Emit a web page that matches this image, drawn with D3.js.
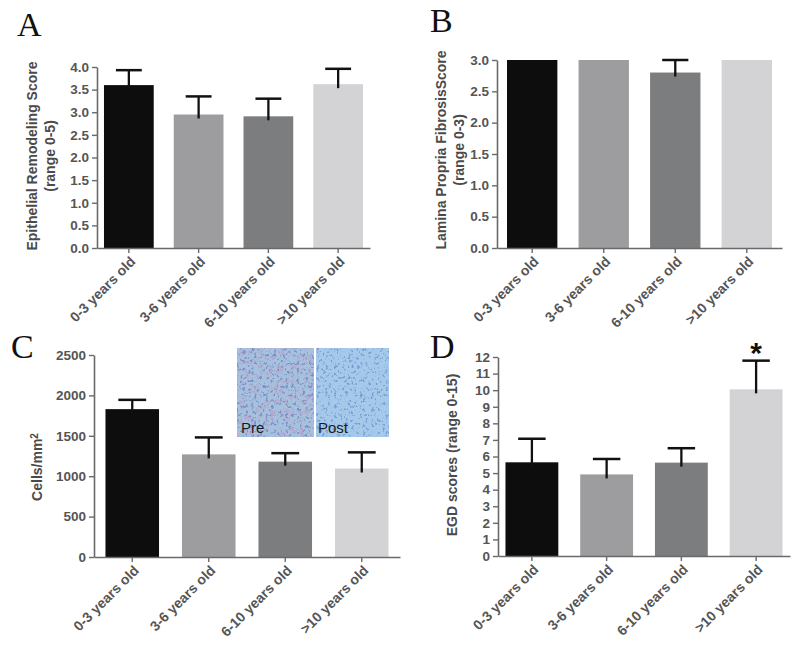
<!DOCTYPE html>
<html>
<head>
<meta charset="utf-8">
<script src="https://cdn.jsdelivr.net/npm/d3@7"></script>
<style>
  html, body { margin: 0; padding: 0; background: #ffffff; }
  svg { display: block; }
  text { font-family: "Liberation Sans", Arial, sans-serif; }
</style>
</head>
<body>
<svg id="chart" width="800" height="668"></svg>
<script>
// ---------- DATA ----------
const categories = ["0-3 years old", "3-6 years old", "6-10 years old", ">10 years old"];
const barColors = ["#0d0d0d", "#9d9d9f", "#7c7d7f", "#d3d3d5"];

const epithelialMean = [3.60, 2.95, 2.91, 3.62];
const epithelialErr  = [0.33, 0.40, 0.39, 0.34];
const epithelialTicks = [0, 0.5, 1, 1.5, 2, 2.5, 3, 3.5, 4];

const fibrosisMean = [3.0, 3.0, 2.8, 3.0];
const fibrosisErr  = [0, 0, 0.2, 0];
const fibrosisTicks = [0, 0.5, 1, 1.5, 2, 2.5, 3];

const cellsMean = [1830, 1270, 1180, 1095];
const cellsErr  = [115, 210, 105, 200];
const cellsTicks = [0, 500, 1000, 1500, 2000, 2500];

const egdMean = [5.65, 4.92, 5.63, 10.05];
const egdErr  = [1.42, 0.93, 0.87, 1.73];
const egdTicks = [0, 1, 2, 3, 4, 5, 6, 7, 8, 9, 10, 11, 12];

// ---------- DRAW ----------
const svg = d3.select("#chart");
const defs = svg.append("defs");

function panel(cfg) {
  const g = svg.append("g");
  const x = d3.scaleBand().domain(categories)
    .range([cfg.x0, cfg.x1]).paddingInner(cfg.pi).paddingOuter(cfg.po);
  const y = d3.scaleLinear().domain([0, cfg.max]).range([cfg.y0, cfg.y1]);

  // bars
  g.selectAll("rect.bar").data(cfg.mean).join("rect")
    .attr("class", "bar")
    .attr("x", (d, i) => x(categories[i]))
    .attr("width", x.bandwidth())
    .attr("y", d => y(d))
    .attr("height", d => y(0) - y(d))
    .attr("fill", (d, i) => barColors[i]);

  // error bars (upper only)
  const capW = x.bandwidth() * 0.52;
  cfg.mean.forEach((m, i) => {
    const e = cfg.err[i];
    if (!e) return;
    const cx = x(categories[i]) + x.bandwidth() / 2;
    g.append("line").attr("x1", cx).attr("x2", cx)
      .attr("y1", y(m) + 4).attr("y2", y(m + e))
      .attr("stroke", "#111").attr("stroke-width", 2.3);
    g.append("line").attr("x1", cx - capW / 2).attr("x2", cx + capW / 2)
      .attr("y1", y(m + e)).attr("y2", y(m + e))
      .attr("stroke", "#111").attr("stroke-width", 2.5);
  });

  // y axis
  const ya = g.append("g").attr("transform", `translate(${cfg.x0},0)`)
    .call(d3.axisLeft(y).tickValues(cfg.ticks).tickFormat(cfg.fmt)
      .tickSize(5).tickSizeOuter(0).tickPadding(3));
  ya.select(".domain").attr("stroke", "#6a6a6a").attr("stroke-width", 1.6);
  ya.selectAll(".tick line").attr("stroke", "#6a6a6a").attr("stroke-width", 1.4);
  ya.selectAll(".tick text").attr("fill", "#555").style("font-size", cfg.tickFs + "px")
    .style("font-weight", "bold");

  // x axis
  const xa = g.append("g").attr("transform", `translate(0,${cfg.y0})`)
    .call(d3.axisBottom(x).tickSize(5).tickSizeOuter(0));
  xa.select(".domain").attr("stroke", "#6a6a6a").attr("stroke-width", 1.6);
  xa.selectAll(".tick line").attr("stroke", "#6a6a6a").attr("stroke-width", 1.4);
  xa.selectAll(".tick text")
    .attr("x", 0).attr("y", 0).attr("dy", "0.35em")
    .attr("transform", "translate(4,11) rotate(-45)")
    .style("text-anchor", "end")
    .style("font-size", "14px").style("font-weight", "bold")
    .attr("fill", "#555");

  // y title
  const yt = g.append("text")
    .attr("transform", `translate(${cfg.titleX},${cfg.titleY}) rotate(-90)`)
    .attr("text-anchor", "middle")
    .attr("fill", "#4a4a4a")
    .style("font-size", "14px").style("font-weight", "bold");
  cfg.title(yt);

  // panel letter
  g.append("text").attr("x", cfg.letterX).attr("y", cfg.letterY)
    .text(cfg.letter)
    .style("font-family", "'Liberation Serif', 'Times New Roman', serif")
    .style("font-size", "34px").attr("fill", "#111");
  return { g, x, y };
}

const fmt1 = d3.format(".1f");
const fmt0 = d3.format("d");

panel({
  letter: "A", letterX: 17, letterY: 36,
  x0: 97, x1: 370, pi: 0.287, po: 0.10, y0: 248, y1: 67, max: 4,
  mean: epithelialMean, err: epithelialErr, ticks: epithelialTicks, fmt: fmt1, tickFs: 13.5,
  titleX: 37, titleY: 156,
  title: t => {
    t.append("tspan").attr("x", 0).attr("dy", 0).text("Epithelial Remodeling Score");
    t.append("tspan").attr("x", 0).attr("dy", "1.3em").text("(range 0-5)");
  }
});

panel({
  letter: "B", letterX: 430, letterY: 32,
  x0: 497, x1: 782, pi: 0.296, po: 0.14, y0: 248, y1: 60, max: 3,
  mean: fibrosisMean, err: fibrosisErr, ticks: fibrosisTicks, fmt: fmt1, tickFs: 13.5,
  titleX: 446, titleY: 150,
  title: t => {
    t.append("tspan").attr("x", 0).attr("dy", 0).text("Lamina Propria FibrosisScore");
    t.append("tspan").attr("x", 0).attr("dy", "1.3em").text("(range 0-3)");
  }
});

const pc = panel({
  letter: "C", letterX: 11, letterY: 358,
  x0: 94, x1: 400, pi: 0.30, po: 0.15, y0: 557, y1: 355, max: 2500,
  mean: cellsMean, err: cellsErr, ticks: cellsTicks, fmt: fmt0, tickFs: 13.5,
  titleX: 42, titleY: 467,
  title: t => {
    t.append("tspan").text("Cells/mm");
    t.append("tspan").attr("dy", "-0.45em").style("font-size", "10px").text("2");
  }
});

const pd = panel({
  letter: "D", letterX: 430, letterY: 358,
  x0: 498, x1: 790, pi: 0.293, po: 0.10, y0: 556, y1: 357, max: 12,
  mean: egdMean, err: egdErr, ticks: egdTicks, fmt: fmt0, tickFs: 13.5,
  titleX: 457, titleY: 455,
  title: t => { t.text("EGD scores (range 0-15)"); }
});

// significance asterisk over the >10 years bar in D
pd.g.append("text")
  .attr("x", pd.x(categories[3]) + pd.x.bandwidth() / 2)
  .attr("y", pd.y(egdMean[3] + egdErr[3]) + 2)
  .attr("text-anchor", "middle")
  .style("font-size", "30px").style("font-weight", "bold")
  .attr("fill", "#111").text("*");

// ---------- INSET MICROGRAPH (decorative) ----------
function noiseFilter(id, seed, freq, rgb, k, off) {
  const f = defs.append("filter").attr("id", id)
    .attr("x", 0).attr("y", 0).attr("width", "100%").attr("height", "100%");
  f.append("feTurbulence").attr("type", "fractalNoise")
    .attr("baseFrequency", freq).attr("numOctaves", 3).attr("seed", seed);
  f.append("feColorMatrix").attr("type", "matrix")
    .attr("values", `0 0 0 0 ${rgb[0]}  0 0 0 0 ${rgb[1]}  0 0 0 0 ${rgb[2]}  ${k} 0 0 0 ${off}`);
}
noiseFilter("nPurple", 9, 0.2, [0.50, 0.38, 0.60], 4, -2.0);
noiseFilter("nBlue", 4, 0.35, [0.18, 0.28, 0.58], 6, -3.3);
noiseFilter("nBlue2", 13, 0.35, [0.2, 0.32, 0.64], 6, -3.35);

const inset = svg.append("g");
const ix = 237, iy = 348, iw = 152, ih = 89, split = 78;
// Pre
inset.append("rect").attr("x", ix).attr("y", iy).attr("width", split - 1).attr("height", ih).attr("fill", "#a6c2de");
inset.append("rect").attr("x", ix).attr("y", iy).attr("width", split - 1).attr("height", ih).attr("filter", "url(#nPurple)");
inset.append("rect").attr("x", ix).attr("y", iy).attr("width", split - 1).attr("height", ih).attr("filter", "url(#nBlue)");
// Post
inset.append("rect").attr("x", ix + split + 1).attr("y", iy).attr("width", iw - split - 1).attr("height", ih).attr("fill", "#a4c9ea");
inset.append("rect").attr("x", ix + split + 1).attr("y", iy).attr("width", iw - split - 1).attr("height", ih).attr("filter", "url(#nBlue2)");
inset.append("text").attr("x", ix + 4).attr("y", iy + ih - 4).text("Pre")
  .style("font-size", "15px").attr("fill", "#1a1a1a");
inset.append("text").attr("x", ix + split + 3).attr("y", iy + ih - 4).text("Post")
  .style("font-size", "15px").attr("fill", "#1a1a1a");
</script>
</body>
</html>
